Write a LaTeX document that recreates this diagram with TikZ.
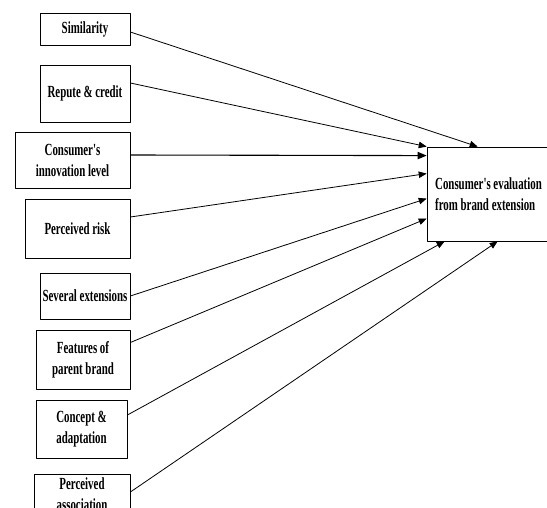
\documentclass[tikz,border=0pt]{standalone}
\usepackage{fontspec}
\newfontfamily\boxfont[FakeStretch=0.64]{Liberation Serif}
\usetikzlibrary{arrows}

\tikzset{
  factor/.style={draw,line width=0.8pt,align=center,inner sep=1pt,
    font=\boxfont\bfseries\fontsize{17}{21}\selectfont},
  link/.style={->,line width=0.8pt}
}

\begin{document}
\begin{tikzpicture}[line cap=round,line join=round,>=triangle 45,x=1pt,y=-1pt]
    \clip (0,0) rectangle (547,508);
    % factors on the left
    \node[factor,minimum width=90,minimum height=32] (sim) at (85,29) {Similarity};
    \node[factor,minimum width=90,minimum height=57] (repute) at (85,93.5) {Repute \& credit};
    \node[factor,minimum width=115,minimum height=56] (innov) at (72.5,160) {Consumer's\\innovation level};
    \node[factor,minimum width=105,minimum height=59] (risk) at (77.5,228.5) {Perceived risk};
    \node[factor,minimum width=90,minimum height=46] (several) at (85,296) {Several extensions};
    \node[factor,minimum width=94,minimum height=59] (features) at (83,359.5) {Features of\\parent brand};
    \node[factor,minimum width=91,minimum height=58] (concept) at (81.5,429) {Concept \&\\adaptation};
    \node[factor,minimum width=96,inner ysep=3pt,anchor=north] (assoc) at (82,474) {Perceived\\association};
    % outcome
    \node[factor,minimum width=123,minimum height=94,align=left] (eval) at (488.5,194) {Consumer's evaluation\\from brand extension};
    \coordinate (e1) at ([xshift=51pt]eval.north west);
    \coordinate (e3) at ([yshift=-9pt]eval.north west);
    \coordinate (e4) at ([yshift=-27pt]eval.north west);
    \coordinate (e5) at ([yshift=-52pt]eval.north west);
    \coordinate (e6) at ([yshift=-72pt]eval.north west);
    \coordinate (e7) at ([xshift=18pt]eval.south west);
    \coordinate (e8) at ([xshift=71pt]eval.south west);
    % arrows
    \draw [link] ([yshift=-3pt]sim.east) -- (e1);
    \draw [link] ([yshift=10.5pt]repute.east) -- (eval.north west);
    \draw [link,line width=1.1pt] ([yshift=5pt]innov.east) -- (e3);
    \draw [link] ([yshift=11.5pt]risk.east) -- (e4);
    \draw [link] (several.east) -- (e5);
    \draw [link] ([yshift=17pt]features.east) -- (e6);
    \draw [link] ([yshift=14pt]concept.east) -- (e7);
    \draw [link] ([yshift=-18pt]assoc.north east) -- (e8);
\end{tikzpicture}
\end{document}
